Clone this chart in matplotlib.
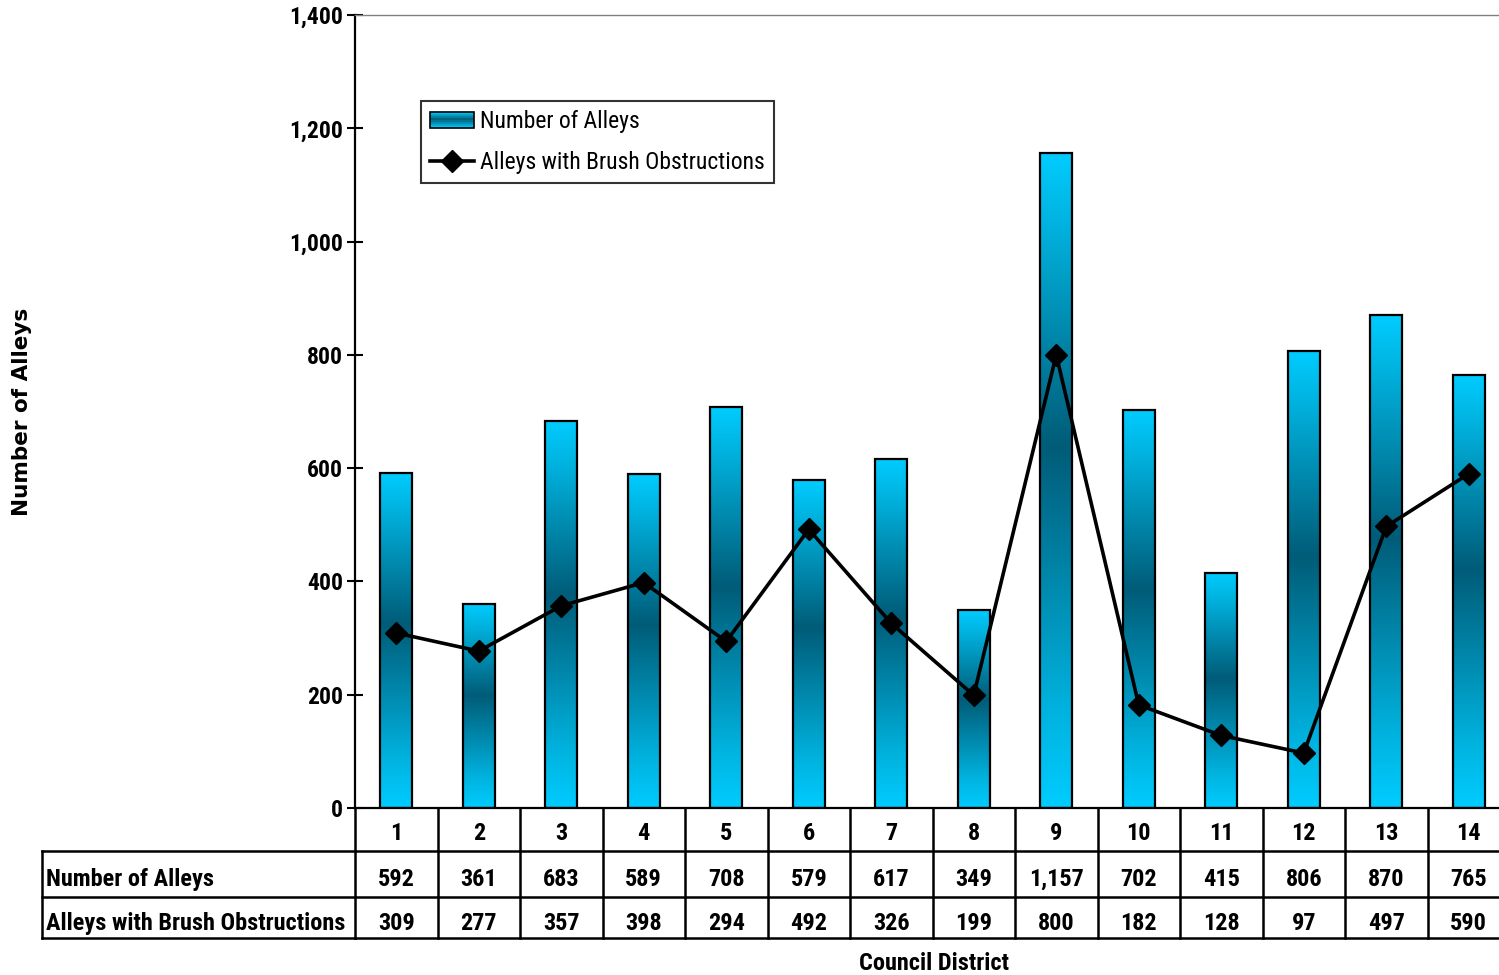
import numpy as np
import matplotlib.pyplot as plt
from matplotlib.colors import LinearSegmentedColormap
from matplotlib.lines import Line2D
from matplotlib.patches import Rectangle
from matplotlib.legend_handler import HandlerPatch
from matplotlib.transforms import blended_transform_factory

narrow = ['Roboto Condensed', 'Fira Sans Condensed', 'Archivo Narrow', 'DejaVu Sans']
plt.rcParams['font.family'] = narrow

districts = ['1', '2', '3', '4', '5', '6', '7', '8', '9', '10', '11', '12', '13', '14']
num_alleys = [592, 361, 683, 589, 708, 579, 617, 349, 1157, 702, 415, 806, 870, 765]
brush_alleys = [309, 277, 357, 398, 294, 492, 326, 199, 800, 182, 128, 97, 497, 590]
row_labels = ['Number of Alleys', 'Alleys with Brush Obstructions']

# light at both ends, dark teal a little above the middle of each bar
bar_cmap = LinearSegmentedColormap.from_list(
    'alley', [(0.0, '#00CCFF'), (0.15, '#00B2DE'), (0.55, '#005C78'),
              (0.88, '#00B0DC'), (1.0, '#00CCFF')])

W, H = 1499, 975
fig = plt.figure(figsize=(W / 100, H / 100), dpi=100)
ax = fig.add_axes([355 / W, 1 - 808 / H, 1155 / W, 793 / H])

x = np.arange(len(districts))
bw = 0.39
grad = np.linspace(0, 1, 256).reshape(-1, 1)
for xi, v in zip(x, num_alleys):
    ax.imshow(grad, cmap=bar_cmap, aspect='auto', origin='lower',
              extent=(xi - bw / 2, xi + bw / 2, 0, v), zorder=2)
bars = ax.bar(x, num_alleys, width=bw, facecolor='none', edgecolor='black',
              linewidth=1.6, zorder=3)

line, = ax.plot(x, brush_alleys, color='black', lw=2.6, marker='D', markersize=11,
                zorder=4)

ax.set_xlim(-0.5, len(districts) - 0.5)
ax.set_ylim(0, 1400)
ax.set_yticks(range(0, 1401, 200))
ax.set_yticklabels([f'{t:,}' for t in range(0, 1401, 200)],
                   fontsize=17, fontweight='bold')
ax.tick_params(axis='y', direction='inout', length=11, width=1.5, pad=3)
ax.set_xticks([])
ax.spines['right'].set_visible(False)
ax.spines['top'].set_color('#808080')
ax.spines['top'].set_linewidth(1)
ax.spines['left'].set_linewidth(1.6)
ax.spines['bottom'].set_linewidth(1.6)

ax.set_ylabel('Number of Alleys', family='DejaVu Sans', fontsize=15.5,
              fontweight='bold')
ax.yaxis.set_label_coords((32 - 355) / 1155, 0.5)


class GradientHandler(HandlerPatch):
    def create_artists(self, legend, orig_handle, xdescent, ydescent,
                       width, height, fontsize, trans):
        arts = []
        n = 8
        for i in range(n):
            c = bar_cmap((i + 0.5) / n)
            arts.append(Rectangle((-xdescent, -ydescent + height * i / n), width,
                                  height / n, facecolor=c, edgecolor='none',
                                  transform=trans))
        arts.append(Rectangle((-xdescent, -ydescent), width, height,
                              facecolor='none', edgecolor='black', lw=1.2,
                              transform=trans))
        return arts


leg = fig.legend([Rectangle((0, 0), 1, 1), line],
                 ['Number of Alleys', 'Alleys with Brush Obstructions'],
                 handler_map={Rectangle: GradientHandler()},
                 loc='upper left', bbox_to_anchor=(421 / W, 1 - 101 / H),
                 fontsize=17, frameon=True, fancybox=False, borderaxespad=0,
                 handlelength=1.85, handletextpad=0.25, labelspacing=0.74,
                 borderpad=0.4)
leg.get_frame().set_edgecolor('black')
leg.get_frame().set_linewidth(1.5)

# data table under the plot
tr = blended_transform_factory(ax.transData, fig.transFigure)
ftr = fig.transFigure
fy = lambda py: 1 - py / H
lw = 1.8
right = len(districts) - 0.5

for b in np.arange(-0.5, len(districts), 1.0):
    fig.add_artist(Line2D([b, b], [fy(808), fy(938)], transform=tr, color='black', lw=lw))
for py in (851, 897, 938):
    fig.add_artist(Line2D([42 / W, 355 / W], [fy(py)] * 2, transform=ftr,
                          color='black', lw=lw))
    fig.add_artist(Line2D([-0.5, right], [fy(py)] * 2, transform=tr,
                          color='black', lw=lw))
fig.add_artist(Line2D([42 / W] * 2, [fy(851), fy(938)], transform=ftr,
                      color='black', lw=lw))

fs = 17.5
for xi, d in zip(x, districts):
    fig.text(xi, fy(840), d, transform=tr, ha='center', va='baseline',
             fontsize=fs, fontweight='bold')
for row, (lab, vals) in enumerate(zip(row_labels, [num_alleys, brush_alleys])):
    base = fy(886 + row * 44)
    fig.text(46 / W, base, lab, transform=ftr, ha='left', va='baseline',
             fontsize=fs, fontweight='bold')
    for xi, v in zip(x, vals):
        fig.text(xi, base, f'{v:,}', transform=tr, ha='center', va='baseline',
                 fontsize=fs, fontweight='bold')

fig.text(934 / W, fy(970), 'Council District', ha='center', va='baseline',
         fontsize=fs, fontweight='bold')

fig.savefig('out.png', dpi=100)
